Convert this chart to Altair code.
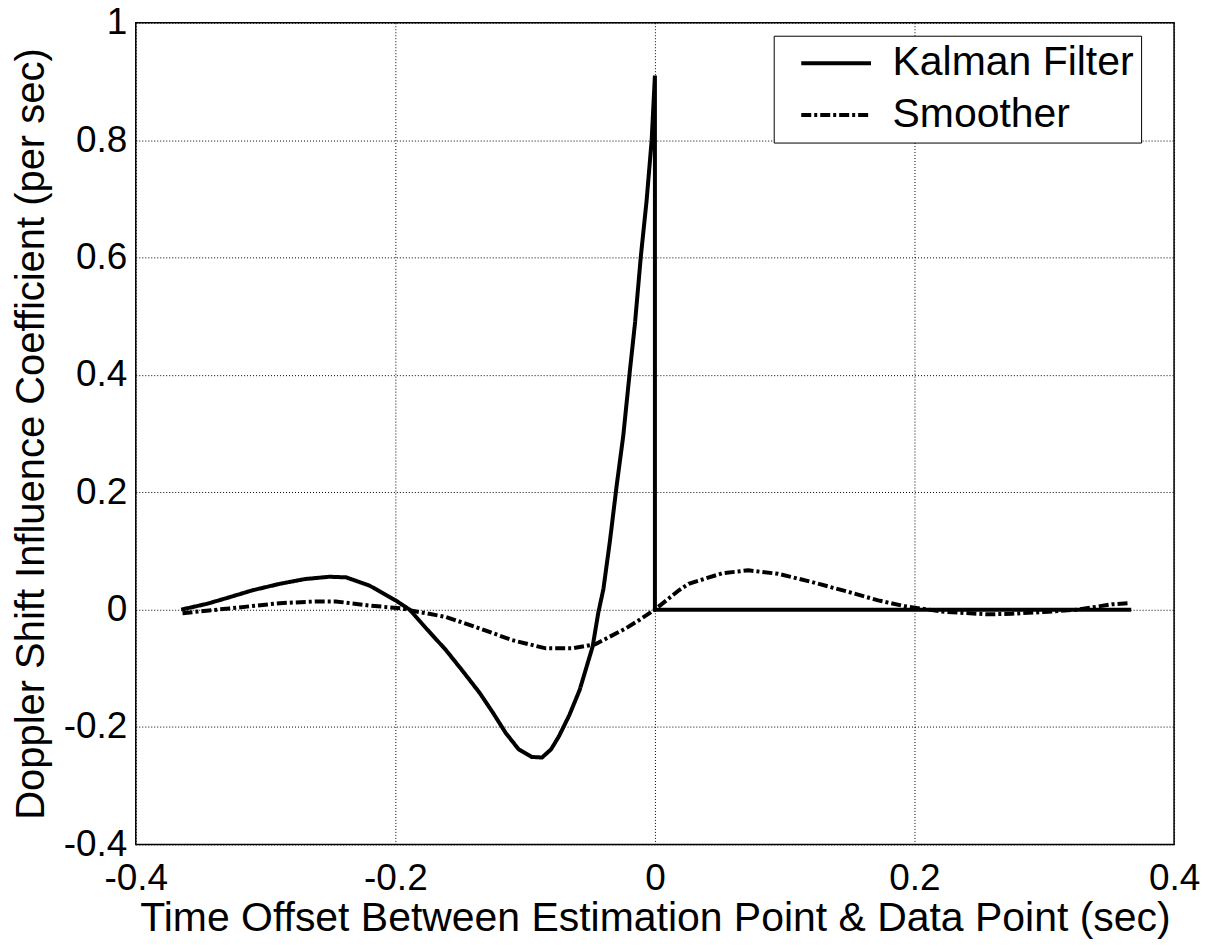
import altair as alt
import pandas as pd

# Kalman filter influence coefficient
kalman_x = [-0.365, -0.345, -0.328, -0.31, -0.289, -0.27, -0.251, -0.238, -0.22, -0.2,
            -0.189, -0.175, -0.161, -0.148, -0.135, -0.125, -0.115, -0.105, -0.095, -0.087,
            -0.08, -0.074, -0.066, -0.058, -0.053, -0.048, -0.0436, -0.0397, -0.0346, -0.0295,
            -0.0244, -0.0192, -0.0154, -0.0108, -0.0064, -0.0025, 0.0, 0.0, 0.367]
kalman_y = [0.0, 0.010, 0.021, 0.033, 0.044, 0.052, 0.056, 0.055, 0.041, 0.016,
            0.0, -0.035, -0.069, -0.105, -0.142, -0.175, -0.21, -0.238, -0.251, -0.252,
            -0.238, -0.216, -0.18, -0.137, -0.10, -0.063, -0.005, 0.035, 0.118, 0.211,
            0.296, 0.409, 0.487, 0.603, 0.697, 0.80, 0.91, 0.0, 0.0]

# Smoother influence coefficient
smooth_x = [-0.364, -0.328, -0.289, -0.261, -0.246, -0.22, -0.195, -0.189, -0.161, -0.135,
            -0.11, -0.084, -0.064, -0.046, -0.0225, -0.0123, 0.0, 0.0185, 0.026, 0.052,
            0.072, 0.095, 0.121, 0.147, 0.172, 0.193, 0.2, 0.224, 0.257, 0.275,
            0.3, 0.326, 0.352, 0.366]
smooth_y = [-0.006, 0.002, 0.011, 0.014, 0.014, 0.007, 0.002, -0.001, -0.0125, -0.032,
            -0.052, -0.066, -0.066, -0.059, -0.032, -0.018, 0.0, 0.033, 0.044, 0.062,
            0.067, 0.061, 0.047, 0.0315, 0.0158, 0.0056, 0.0034, -0.004, -0.008, -0.007,
            -0.004, 0.0, 0.009, 0.011]

series = ["Kalman Filter", "Smoother"]
x_ticks = [-0.4, -0.2, 0, 0.2, 0.4]
y_ticks = [-0.4, -0.2, 0, 0.2, 0.4, 0.6, 0.8, 1]

rows = []
for i, (a, b) in enumerate(zip(kalman_x, kalman_y)):
    rows.append({"x": a, "y": b, "s": series[0], "i": i})
for i, (a, b) in enumerate(zip(smooth_x, smooth_y)):
    rows.append({"x": a, "y": b, "s": series[1], "i": i})
df = pd.DataFrame(rows)

FONT = "Liberation Sans"
FS = 37
lab = "datum.value < 0 ? '-' + format(-datum.value, '~g') : format(datum.value, '~g')"

chart = alt.Chart(df).mark_line(color="black", strokeWidth=4).encode(
    x=alt.X("x:Q", scale=alt.Scale(domain=[-0.4, 0.4], nice=False, zero=False),
            axis=alt.Axis(values=x_ticks, title="Time Offset Between Estimation Point & Data Point (sec)",
                          grid=True, labelExpr=lab, labelPadding=16, titlePadding=2,
                          titleFontSize=41,
                          labelFlush=False, labelOverlap=False, labelBound=False)),
    y=alt.Y("y:Q", scale=alt.Scale(domain=[-0.4, 1], nice=False, zero=False),
            axis=alt.Axis(values=y_ticks, title="Doppler Shift Influence Coefficient (per sec)",
                          grid=True, labelExpr=lab, labelPadding=9, titlePadding=12,
                          titleFontSize=40,
                          labelFlush=False, labelOverlap=False, labelBound=False)),
    strokeDash=alt.StrokeDash("s:N",
        scale=alt.Scale(domain=series, range=[[1, 0], [10, 3, 3, 3]]),
        legend=alt.Legend(title=None, orient="none", legendX=639, legendY=13,
                          symbolType="M-1.94,0H1.94", symbolSize=1296, symbolStrokeWidth=4,
                          symbolStrokeColor="black", labelFontSize=41, labelFont=FONT,
                          labelColor="black", labelOffset=36, rowPadding=10,
                          padding=7, symbolOffset=35, strokeColor="black",
                          fillColor="white", labelLimit=600)),
    order=alt.Order("i:Q"),
).properties(
    width=1040, height=823,
    autosize=alt.AutoSizeParams(type="none"),
    padding={"left": 128, "top": 14, "right": 30, "bottom": 96},
    background="white",
).configure_axis(
    labelFont=FONT, titleFont=FONT, labelFontSize=FS,
    labelColor="black", titleColor="black", titleFontWeight="normal",
    domain=False, ticks=False,
    gridColor="black", gridDash=[1, 2], gridWidth=1, gridOpacity=1,
).configure_view(
    stroke="black", strokeWidth=1.5,
)

chart.save("out.html", embed_options={"renderer": "svg", "actions": False})
